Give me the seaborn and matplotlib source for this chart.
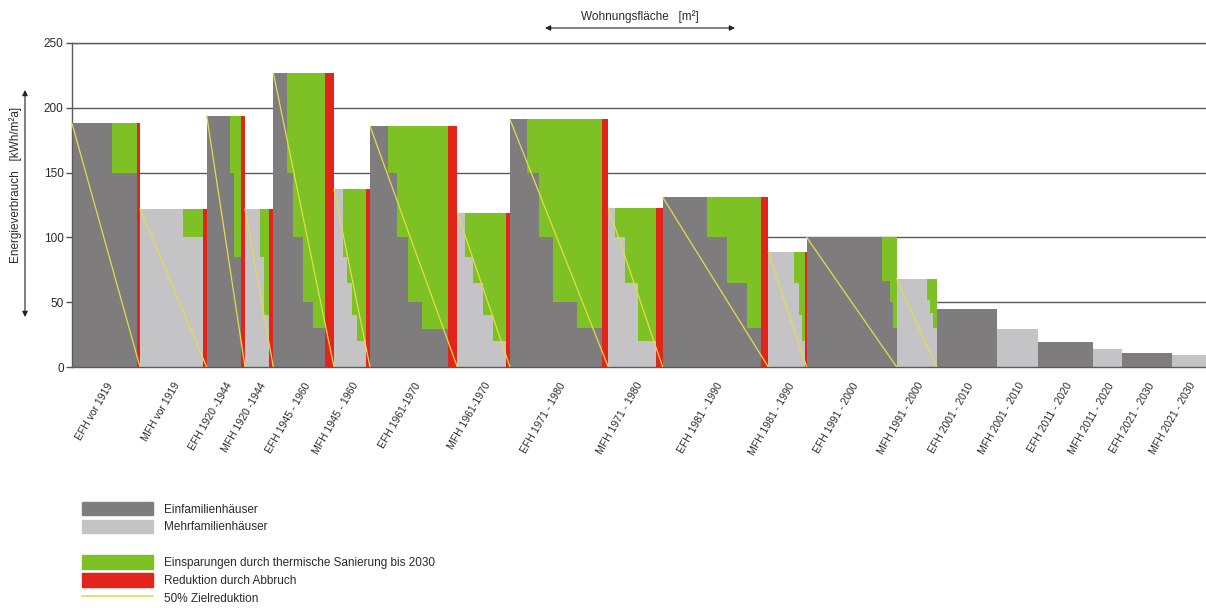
import numpy as np
import pandas as pd
import seaborn as sns
import matplotlib.pyplot as plt
from matplotlib.patches import Patch
from matplotlib.lines import Line2D

# Gebäudeklassen (Breite = Wohnungsfläche, Höhe = Energieverbrauch)
labels = ["EFH vor 1919", "MFH vor 1919", "EFH 1920 -1944", "MFH 1920 -1944",
          "EFH 1945 - 1960", "MFH 1945 - 1960", "EFH 1961-1970", "MFH 1961-1970",
          "EFH 1971 - 1980", "MFH 1971 - 1980", "EFH 1981 - 1990", "MFH 1981 - 1990",
          "EFH 1991 - 2000", "MFH 1991 - 2000", "EFH 2001 - 2010", "MFH 2001 - 2010",
          "EFH 2011 - 2020", "MFH 2011 - 2020", "EFH 2021 - 2030", "MFH 2021 - 2030"]
flaeche = [6.80, 6.67, 3.83, 2.83, 6.07, 3.60, 8.73, 5.27, 9.83, 5.44,
           10.56, 3.84, 9.00, 4.00, 6.06, 4.04, 5.56, 2.90, 5.00, 3.37]
verbrauch = [188, 122, 194, 122, 227, 137, 186, 119, 191, 123,
             131, 89, 100, 68, 45, 29, 19, 14, 11, 9]
# Reduktion durch Abbruch (Flächenanteil am rechten Rand)
abbruch = [0.33, 0.34, 0.43, 0.40, 0.90, 0.40, 0.90, 0.43, 0.66, 0.67,
           0.73, 0.17, 0, 0, 0, 0, 0, 0, 0, 0]
# Thermische Sanierung bis 2030: Stufenbreiten und verbleibender Verbrauch
san_breite = [[2.5], [2.0], [0.4, 0.67], [0.4, 0.53], [0.66, 1.0, 1.0, 1.17],
              [0.34, 0.5, 0.5, 0.93], [0.84, 1.16, 1.34, 2.66], [0.83, 1.0, 1.0, 1.24],
              [1.26, 1.34, 2.4, 2.5], [1.0, 1.33, 1.77], [1.94, 2.0, 1.43],
              [0.53, 0.22, 0.35], [0.83, 0.33, 0.34], [0.33, 0.33, 0.34],
              [], [], [], [], [], []]
san_niveau = [[150], [100], [150, 85], [85, 40], [150, 100, 50, 30],
              [85, 65, 40, 20], [150, 100, 50, 29], [85, 65, 40, 20],
              [150, 100, 50, 30], [100, 65, 20], [100, 65, 30],
              [65, 40, 20], [66, 50, 30], [52, 42, 30],
              [], [], [], [], [], []]

C_EFH = "#7f7c7d"
C_MFH = "#c4c4c6"
C_GRUEN = "#7dc124"
C_ROT = "#e2241b"
C_GELB = "#e4dc4a"
C_TEXT = "#2a2a2a"

sns.set_theme(style="white")
plt.rcParams["font.family"] = ["Liberation Sans", "DejaVu Sans"]

fig = plt.figure(figsize=(12.06, 6.08), dpi=100)
ax = fig.add_axes([72 / 1206, 1 - 367 / 608, 1134 / 1206, 324 / 608])

flaeche_a = np.array(flaeche)
abbruch_a = np.array(abbruch)
links = np.concatenate([[0], np.cumsum(flaeche_a)[:-1]])
farben = [C_EFH if l.startswith("EFH") else C_MFH for l in labels]

# Grundverbrauch
ax.bar(links, verbrauch, width=flaeche_a - abbruch_a, align="edge",
       color=farben, linewidth=0, zorder=2)

# Einsparungen durch Sanierung (Treppen)
for i in range(len(labels)):
    x = links[i] + flaeche[i] - abbruch[i] - sum(san_breite[i])
    for w, h in zip(san_breite[i], san_niveau[i]):
        ax.bar(x, verbrauch[i] - h, bottom=h, width=w, align="edge",
               color=C_GRUEN, linewidth=0, zorder=2)
        x += w

# Abbruch
ax.bar(links + flaeche_a - abbruch_a, verbrauch, width=abbruch_a, align="edge",
       color=C_ROT, linewidth=0, zorder=2)

# 50% Zielreduktion: Diagonale je Block
rows = []
for i in range(len(labels)):
    if san_breite[i]:
        rows.append({"block": i, "x": links[i], "y": verbrauch[i]})
        rows.append({"block": i, "x": links[i] + flaeche[i], "y": 0})
df_ziel = pd.DataFrame(rows)
sns.lineplot(data=df_ziel, x="x", y="y", units="block", estimator=None,
             sort=False, color=C_GELB, linewidth=0.9, ax=ax, zorder=3)

ax.set_xlim(0, flaeche_a.sum())
ax.set_ylim(0, 250)
ax.set_yticks([0, 50, 100, 150, 200, 250])
ax.set_xticks(links + flaeche_a / 2)
ax.set_xticklabels(labels, rotation=60, ha="right", rotation_mode="anchor",
                   fontsize=7.5, color=C_TEXT)
ax.tick_params(axis="x", length=0, pad=10)
ax.tick_params(axis="y", length=4, width=1, color="#555555", labelsize=8.5,
               labelcolor=C_TEXT, pad=2, left=True)
ax.set_xlabel("")
ax.set_ylabel("")

ax.grid(True, axis="y", color="#5a5a5a", linewidth=1.0)
ax.grid(False, axis="x")
ax.set_axisbelow(True)
for s in ["top", "left", "bottom"]:
    ax.spines[s].set_color("#5a5a5a")
    ax.spines[s].set_linewidth(1.0)
ax.spines["right"].set_visible(False)

# Achsenbeschriftungen mit Pfeilen
fig.text(640 / 1206, 1 - 17 / 608, "Wohnungsfläche   [m²]", ha="center", va="center",
         fontsize=8.5, color=C_TEXT)
fig.add_artist(plt.Annotation("", xy=(735 / 1206, 1 - 28 / 608), xytext=(545 / 1206, 1 - 28 / 608),
                              xycoords="figure fraction",
                              arrowprops=dict(arrowstyle="<|-|>", color="#222222", lw=0.8,
                                              mutation_scale=8, shrinkA=0, shrinkB=0)))
fig.text(16 / 1206, 1 - 185 / 608, "Energieverbrauch   [kWh/m²a]", rotation=90,
         ha="center", va="center", fontsize=8.5, color=C_TEXT)
fig.add_artist(plt.Annotation("", xy=(25 / 1206, 1 - 90 / 608), xytext=(25 / 1206, 1 - 317 / 608),
                              xycoords="figure fraction",
                              arrowprops=dict(arrowstyle="<|-|>", color="#222222", lw=0.8,
                                              mutation_scale=8, shrinkA=0, shrinkB=0)))

# Legende
handles = [Patch(color=C_EFH), Patch(color=C_MFH), Patch(color="none"),
           Patch(color=C_GRUEN), Patch(color=C_ROT), Line2D([], [], color=C_GELB, lw=1.2)]
texte = ["Einfamilienhäuser", "Mehrfamilienhäuser", "",
         "Einsparungen durch thermische Sanierung bis 2030", "Reduktion durch Abbruch",
         "50% Zielreduktion"]
fig.legend(handles, texte, loc="upper left", bbox_to_anchor=(82 / 1206, 1 - 502 / 608),
           frameon=False, fontsize=8.5, handlelength=6.0, handleheight=1.35,
           labelspacing=0.36, handletextpad=0.95, borderpad=0, borderaxespad=0,
           labelcolor=C_TEXT)

fig.savefig("out.png", dpi=100)
